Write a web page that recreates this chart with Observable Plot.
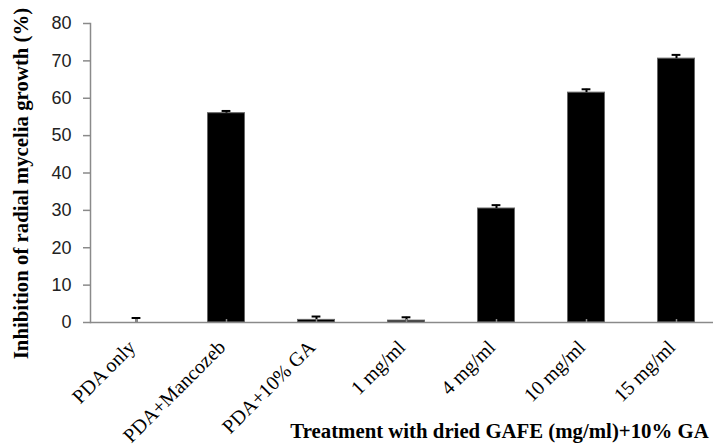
<!DOCTYPE html>
<html>
<head>
<meta charset="utf-8">
<script src="https://cdn.jsdelivr.net/npm/d3@7"></script>
<script src="https://cdn.jsdelivr.net/npm/@observablehq/plot@0.6"></script>
<style>
  html, body { margin: 0; padding: 0; background: #fff; overflow: hidden; }
</style>
</head>
<body>
<div id="chart"></div>
<script>
const categories = ["PDA only", "PDA+Mancozeb", "PDA+10% GA", "1 mg/ml", "4 mg/ml", "10 mg/ml", "15 mg/ml"];
const inhibition = [0, 56.0, 0.7, 0.5, 30.5, 61.5, 70.6];
const errors = [1.2, 0.6, 0.9, 0.9, 0.9, 0.9, 1.0];
const yTicks = [0, 10, 20, 30, 40, 50, 60, 70, 80];
const yTitle = "Inhibition of radial mycelia growth (%)";
const xTitle = "Treatment with dried GAFE (mg/ml)+10% GA";

const data = categories.map((c, i) => ({cat: c, v: inhibition[i], e: errors[i]}));
const serif = "'Liberation Serif', 'Times New Roman', Times, serif";
const sans = "'Liberation Sans', Arial, Helvetica, sans-serif";
const axisGray = "#8a8a8a";

const chart = Plot.plot({
  width: 713,
  height: 446,
  marginLeft: 90,
  marginRight: -9,
  marginTop: 23,
  marginBottom: 124,
  style: {background: "#fff", overflow: "hidden"},
  x: {domain: categories, padding: 0, axis: null},
  y: {domain: [0, 80], axis: null},
  marks: [
    Plot.barY(data, {x: "cat", y: "v", fill: "#000", stroke: "#666", strokeWidth: 1, insetLeft: 26.5, insetRight: 26.5}),
    Plot.ruleX(data, {x: "cat", y1: "v", y2: d => d.v + d.e, stroke: "#000", strokeWidth: 2}),
    Plot.tickY(data, {x: "cat", y: d => d.v + d.e, stroke: "#000", strokeWidth: 2, insetLeft: 40.6, insetRight: 40.6}),
    Plot.ruleX(categories, {x: d => d, y1: 0, y2: 0.8, stroke: axisGray, strokeWidth: 1.5}),
    Plot.ruleY([0], {stroke: axisGray, strokeWidth: 1.5}),
    Plot.frame({anchor: "left", stroke: axisGray, strokeWidth: 1.5}),
    Plot.axisY({ticks: yTicks, tickSize: 7, tickPadding: 12, stroke: axisGray, strokeWidth: 1.5, fill: "#222", fontSize: 18, fontFamily: sans, label: null}),
    Plot.text(categories, {x: d => d, frameAnchor: "bottom", rotate: -45, textAnchor: "end", lineAnchor: "bottom", dx: 0, dy: 26, fontSize: 20, fontFamily: serif, fill: "#000"}),
    Plot.text([yTitle], {frameAnchor: "left", rotate: -90, textAnchor: "middle", lineAnchor: "bottom", dx: -63, dy: 10.5, fontSize: 20.8, fontWeight: "bold", fontFamily: serif, fill: "#000"}),
    Plot.text([xTitle], {frameAnchor: "bottom", textAnchor: "middle", lineAnchor: "bottom", dx: 93, dy: 115.5, fontSize: 20.8, fontWeight: "bold", fontFamily: serif, fill: "#000"})
  ]
});
document.getElementById("chart").appendChild(chart);
</script>
</body>
</html>
